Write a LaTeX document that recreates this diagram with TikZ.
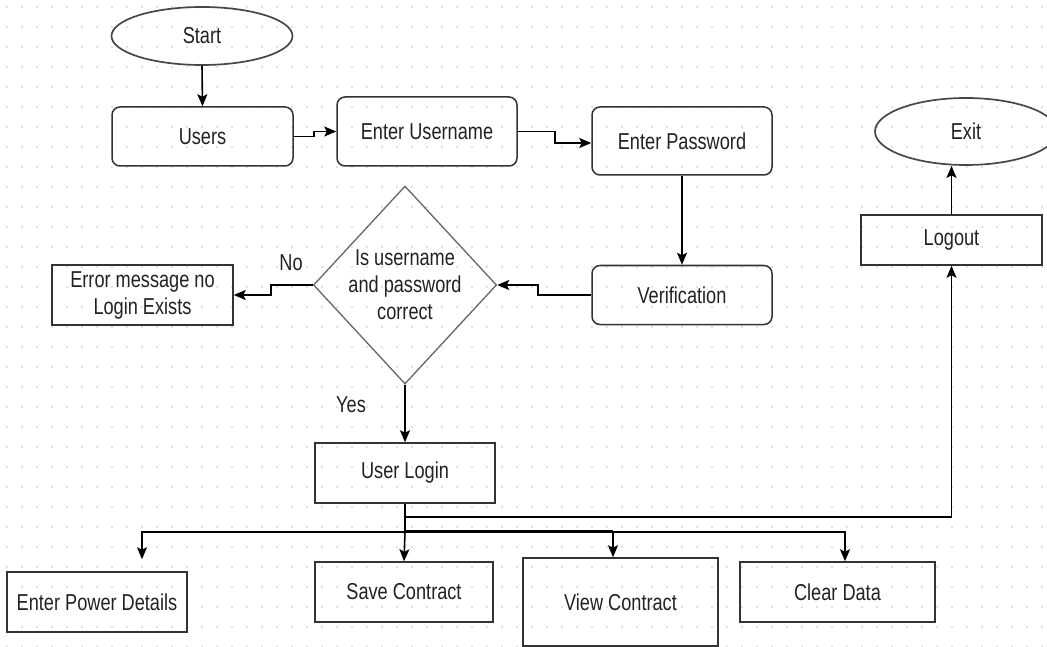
\documentclass[tikz,border=0pt]{standalone}
\usepackage{fontspec}
\setmainfont{Liberation Sans}[FakeStretch=0.79]
\usetikzlibrary{shapes.geometric,arrows.meta,calc}
\definecolor{txt}{HTML}{222222}
\definecolor{bord}{HTML}{333333}
\definecolor{dia}{HTML}{666666}
\definecolor{dot}{HTML}{C4C4C4}
\tikzset{
  base/.style={draw=bord,line width=1.5pt,text=txt,inner sep=2pt,font=\fontsize{23}{27}\selectfont,align=center},
  rbox/.style={base,rectangle,rounded corners=8pt},
  sbox/.style={base,rectangle},
  oval/.style={base,ellipse,draw=bord!90,line width=1.7pt},
  decision/.style={base,diamond,draw=dia,line width=1.3pt,inner sep=0pt},
  lbl/.style={text=txt,font=\fontsize{23}{27}\selectfont,inner sep=0pt},
  arr/.style={line width=1.6pt,-{Stealth[length=12pt,width=10pt,inset=2.5pt]}},
  ln/.style={line width=1.6pt}
}
\begin{document}
\begin{tikzpicture}[x=1pt,y=-1pt]
\useasboundingbox (0,0) rectangle (1047,647);
\fill[white] (0,0) rectangle (1047,647);
\clip (0,0) rectangle (1047,647);
\foreach \i in {0,...,69}{
  \foreach \j in {0,...,32}{
    \fill[dot] (7+15*\i,7+20*\j) circle (0.9pt);
  }
}
% nodes
\node[oval,minimum width=181pt,minimum height=58pt] (start) at (202,36) {Start};
\node[rbox,minimum width=181pt,minimum height=59pt] (users) at (202.5,136.5) {Users};
\node[rbox,minimum width=180pt,minimum height=69pt] (uname) at (427,131.5) {Enter Username};
\node[rbox,minimum width=180pt,minimum height=68pt] (pwd) at (682,141) {Enter Password};
\node[rbox,minimum width=180pt,minimum height=59pt] (verif) at (682,295) {Verification};
\node[decision,minimum width=165pt,minimum height=198pt] (dec) at (405,285) {Is username\\and password\\correct};
\node[sbox,minimum width=181pt,minimum height=60pt] (err) at (142.5,295) {Error message no\\Login Exists};
\node[sbox,minimum width=180pt,minimum height=60pt] (login) at (405,473) {User Login};
\node[sbox,minimum width=181pt,minimum height=50pt] (logout) at (951.5,240) {Logout};
\node[oval,minimum width=182pt,minimum height=67pt] (exit) at (966,131.5) {Exit};
\node[sbox,minimum width=180pt,minimum height=60pt] (pd) at (97,602) {Enter Power Details};
\node[sbox,minimum width=178pt,minimum height=60pt] (save) at (404,592) {Save Contract};
\node[sbox,minimum width=195pt,minimum height=88pt] (view) at (620.5,602) {View Contract};
\node[sbox,minimum width=195pt,minimum height=60pt] (clear) at (837.5,592) {Clear Data};
\node[lbl] (no) at (291,263) {No};
\node[lbl] (yes) at (351,405) {Yes};
% connectors
\draw[arr] (start.south) -- (users.north);
\draw[arr] (users.east) -- ++(20,0) |- (uname.west);
\draw[arr] (uname.east) -- ++(37,0) |- ([yshift=-2pt]pwd.west);
\draw[arr] (pwd.south) -- (verif.north);
\draw[arr] (verif.west) -- ++(-53,0) |- (dec.east);
\draw[arr] (dec.west) -- ++(-42,0) |- (err.east);
\draw[arr] (dec.south) -- (login.north);
\draw[arr] (login.south) -- ++(0,13) -| (logout.south);
\draw[arr] (logout.north) -- (logout.north |- exit.south);
\coordinate (bus) at ($(login.south)+(0,28)$);
\coordinate (vtap) at ([xshift=-7.5pt]view.north);
\draw[ln] (login.south) -- (bus);
\draw[arr] (bus) -| ([xshift=45pt,yshift=12pt]pd.north);
\draw[arr] (bus) -- (save.north);
\draw[arr] (bus) -| (vtap);
\draw[arr] (bus) -| ([xshift=7.5pt]clear.north);
\draw[line width=3.2pt] (bus) -- (bus -| vtap);
\end{tikzpicture}
\end{document}
